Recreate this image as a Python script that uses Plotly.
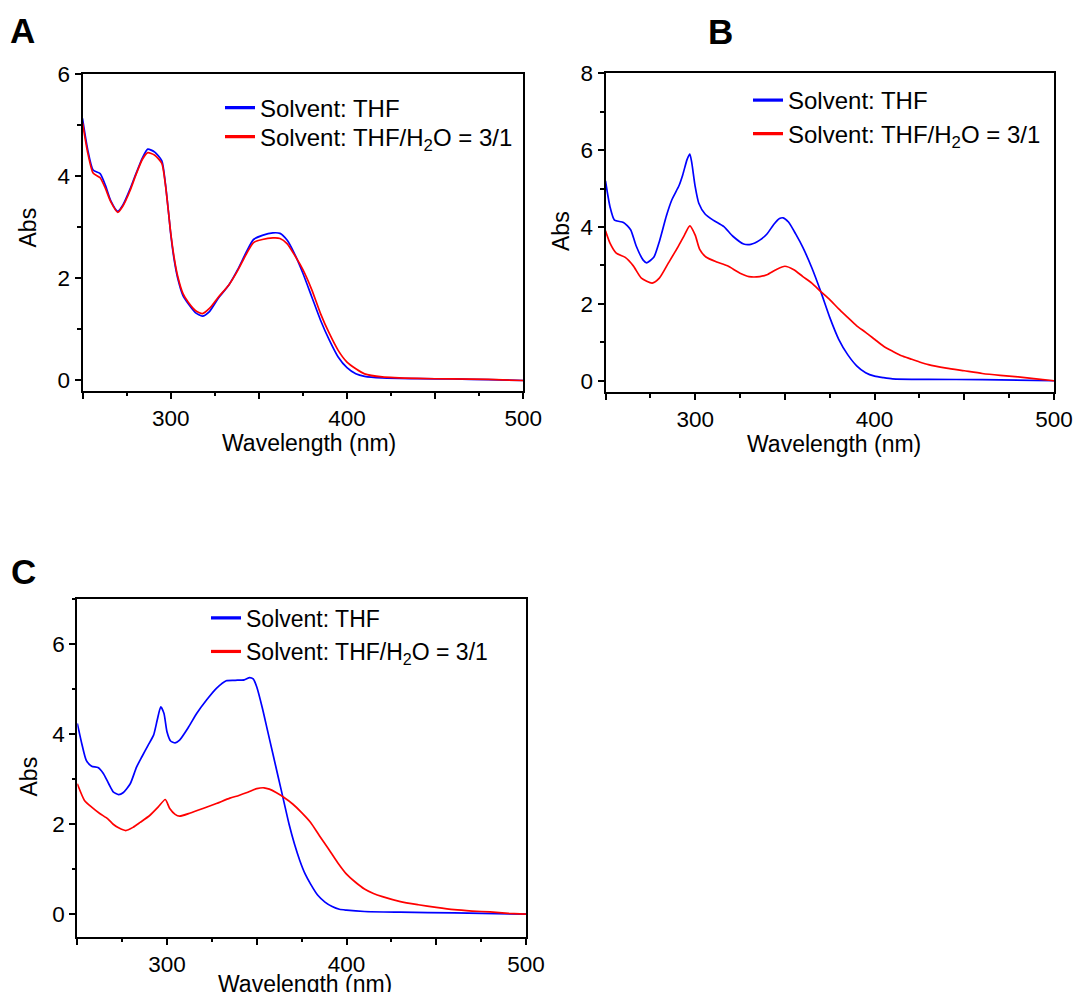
import plotly.graph_objects as go

W, H = 1073, 992

# ---------------- data ----------------
# Panel A
a_wl = [250, 253, 256, 260, 263, 266, 270, 273, 277, 280, 284, 287, 291, 295, 297, 299, 300, 302, 304, 307,
        310, 314, 318, 322, 327, 333, 338, 343, 347, 352, 358, 362, 366, 370, 375, 380, 385, 390, 395, 400,
        405, 410, 420, 440, 460, 480, 500]
a_thf = [5.13, 4.51, 4.12, 4.05, 3.82, 3.52, 3.31, 3.44, 3.75, 4.02, 4.36, 4.53, 4.47, 4.30, 3.86, 3.22, 2.88, 2.36, 2.0, 1.66,
         1.5, 1.33, 1.26, 1.35, 1.61, 1.87, 2.17, 2.52, 2.76, 2.84, 2.89, 2.88, 2.75, 2.50, 2.10, 1.64, 1.18, 0.79, 0.46, 0.25,
         0.13, 0.08, 0.05, 0.035, 0.03, 0.015, 0.0]
a_mix = [5.05, 4.45, 4.06, 3.97, 3.76, 3.50, 3.29, 3.42, 3.72, 4.0, 4.33, 4.46, 4.41, 4.25, 3.84, 3.22, 2.9, 2.4, 2.04, 1.7,
         1.53, 1.37, 1.31, 1.41, 1.63, 1.87, 2.15, 2.48, 2.70, 2.76, 2.79, 2.78, 2.68, 2.47, 2.17, 1.78, 1.31, 0.92, 0.59, 0.36,
         0.23, 0.13, 0.07, 0.04, 0.03, 0.02, 0.0]

# Panel B
b_thf_wl = [250, 252.5, 255, 260, 264, 267, 271, 273, 277, 280, 284, 287, 291, 293, 295.5, 297, 298, 300, 302, 305.5,
            310, 316, 321, 327, 331, 336, 340, 344, 347, 349, 352, 356, 360, 365, 370, 375, 380, 385, 390, 395,
            400, 405, 410, 430, 460, 500]
b_thf = [5.2, 4.53, 4.18, 4.12, 3.93, 3.52, 3.14, 3.07, 3.22, 3.62, 4.3, 4.71, 5.08, 5.35, 5.76, 5.9, 5.7, 5.05, 4.62, 4.34,
         4.18, 4.01, 3.76, 3.56, 3.55, 3.66, 3.82, 4.08, 4.22, 4.24, 4.13, 3.82, 3.47, 2.94, 2.32, 1.65, 1.08, 0.68, 0.39, 0.21,
         0.12, 0.08, 0.05, 0.035, 0.03, 0.0]
b_mix_wl = [250, 252.5, 256, 261, 265.5, 270, 276, 280, 285, 290.5, 294, 297, 300, 302.5, 306, 312, 318, 325, 330, 336,
            340, 345, 350, 355, 360, 365, 370, 375, 380, 385, 390, 395, 400, 405, 410, 415, 420, 425, 430, 440,
            450, 460, 470, 480, 490, 500]
b_mix = [3.9, 3.58, 3.32, 3.21, 2.99, 2.67, 2.54, 2.67, 3.06, 3.49, 3.79, 4.03, 3.79, 3.42, 3.22, 3.09, 2.99, 2.8, 2.71, 2.71,
         2.76, 2.89, 2.98, 2.89, 2.71, 2.54, 2.32, 2.11, 1.87, 1.65, 1.43, 1.26, 1.08, 0.9, 0.77, 0.65, 0.57, 0.49, 0.42, 0.33,
         0.26, 0.19, 0.14, 0.1, 0.05, 0.0]

# Panel C
c_thf_wl = [250, 252.5, 255, 258, 261.5, 264.5, 267.5, 270, 273, 275.5, 279.5, 283, 286, 289.5, 292.5, 294.5, 296.5, 298.3, 300, 302,
            304.5, 307, 312, 316.5, 322, 327.5, 333, 338, 343, 346, 348, 350, 353, 356, 359, 362, 365, 368, 371, 374,
            377, 380, 384, 388, 392, 396, 400, 410, 430, 460, 500]
c_thf = [4.24, 3.79, 3.42, 3.29, 3.26, 3.13, 2.9, 2.72, 2.66, 2.70, 2.9, 3.27, 3.5, 3.76, 3.98, 4.31, 4.61, 4.46, 4.05, 3.85,
         3.81, 3.87, 4.16, 4.46, 4.76, 5.02, 5.19, 5.2, 5.21, 5.26, 5.23, 5.05, 4.6, 4.08, 3.56, 3.04, 2.52, 2.0, 1.56, 1.19,
         0.89, 0.67, 0.42, 0.27, 0.17, 0.11, 0.09, 0.06, 0.045, 0.03, 0.0]
c_mix_wl = [250, 254, 258, 262.5, 267, 270, 273, 277, 281, 285, 290.5, 295, 299, 301.5, 304.5, 307, 313, 320, 327.5, 335,
            340, 345, 350, 354, 357, 361, 365, 370, 375, 380, 385, 390, 395, 400, 405, 410, 415, 420, 430, 440,
            450, 460, 470, 480, 490, 500]
c_mix = [2.9, 2.53, 2.38, 2.24, 2.12, 2.0, 1.92, 1.86, 1.93, 2.04, 2.2, 2.38, 2.55, 2.35, 2.22, 2.18, 2.25, 2.35, 2.46, 2.58,
         2.64, 2.71, 2.79, 2.81, 2.78, 2.7, 2.6, 2.45, 2.26, 2.04, 1.74, 1.45, 1.15, 0.89, 0.71, 0.56, 0.46, 0.39, 0.28, 0.21,
         0.15, 0.1, 0.07, 0.05, 0.02, 0.0]

series_names = ["Solvent: THF", "Solvent: THF/H<sub>2</sub>O = 3/1"]
x_tickvals = [250, 300, 350, 400, 450, 500]
x_ticktext = ["", "300", "", "400", "", "500"]
x_title = "Wavelength (nm)"
y_title = "Abs"
panel_letters = ["A", "B", "C"]

# ---------------- style ----------------
FONT = "Liberation Sans, Arial, Helvetica, sans-serif"
BLUE, RED = "#0000FF", "#FF0000"
TICK_FS, TITLE_FS = 22.5, 23


def px_x(p):
    return p / W


def px_y(p):
    return 1 - p / H


# panel pixel boxes: left, right, top, bottom
boxes = {
    "A": (82.5, 523.3, 74.0, 390.7),
    "B": (605.5, 1054.0, 73.3, 392.3),
    "C": (77.3, 526.0, 599.3, 936.7),
}
yranges = {"A": [-0.2, 6.0], "B": [-0.3, 8.0], "C": [-0.5, 7.0]}
ytickvals = {"A": [0, 2, 4, 6], "B": [0, 2, 4, 6, 8], "C": [0, 2, 4, 6]}
# title centres in pixels
xtitle_pos = {"A": (309, 443), "B": (834, 444), "C": (305, 984)}
ytitle_pos = {"A": (27.5, 228), "B": (561, 231), "C": (28.5, 777)}
# legend entry placement: (x of entry origin, top y of entry row 1, top y of row 2, font size)
legend_place = {"A": (220, 85.5, 114.5, 24), "B": (748, 78, 111.5, 24), "C": (206, 596.5, 630, 23)}

fig = go.Figure()

panels = [
    ("A", "x", "y", ("legend", "legend2"), (a_wl, a_thf), (a_wl, a_mix)),
    ("B", "x2", "y2", ("legend3", "legend4"), (b_thf_wl, b_thf), (b_mix_wl, b_mix)),
    ("C", "x3", "y3", ("legend5", "legend6"), (c_thf_wl, c_thf), (c_mix_wl, c_mix)),
]

for key, xa, ya, legs, s1, s2 in panels:
    for (wl, vals), color in ((s1, BLUE), (s2, RED)):
        fig.add_trace(go.Scatter(x=wl, y=vals, mode="lines", xaxis=xa, yaxis=ya,
                                 line=dict(color=color, width=1.7, shape="spline", smoothing=0.6),
                                 showlegend=False, hoverinfo="skip"))
    # legend entries (thicker sample lines, as in the original)
    for name, color, leg in zip(series_names, (BLUE, RED), legs):
        fig.add_trace(go.Scatter(x=[None], y=[None], mode="lines", xaxis=xa, yaxis=ya,
                                 line=dict(color=color, width=3.2), name=name, legend=leg))

axis_common = dict(showline=True, linecolor="black", linewidth=2, mirror=True,
                   ticks="outside", ticklen=6, tickwidth=2, tickcolor="black",
                   showgrid=False, zeroline=False, automargin=False,
                   tickfont=dict(family=FONT, size=TICK_FS, color="black"))

layout = dict(width=W, height=H, margin=dict(l=0, r=0, t=0, b=0, autoexpand=False),
              paper_bgcolor="white", plot_bgcolor="white",
              font=dict(family=FONT, color="black"))

for i, (key, xa, ya, legs, s1, s2) in enumerate(panels):
    l, r, t, b = boxes[key]
    sfx = "" if i == 0 else str(i + 1)
    layout["xaxis" + sfx] = dict(axis_common, domain=[px_x(l), px_x(r)], range=[250, 500],
                                 anchor="y" + sfx, tickmode="array", tickvals=x_tickvals, ticktext=x_ticktext,
                                 minor=dict(ticks="outside", ticklen=3.5, tickwidth=2, tickcolor="black",
                                            tickmode="linear", tick0=250, dtick=25))
    layout["yaxis" + sfx] = dict(axis_common, domain=[px_y(b), px_y(t)], range=yranges[key],
                                 anchor="x" + sfx, tickmode="array", tickvals=ytickvals[key],
                                 minor=dict(ticks="outside", ticklen=3.5, tickwidth=2, tickcolor="black",
                                            tickmode="linear", tick0=0, dtick=1))
    lx, ly1, ly2, lfs = legend_place[key]
    for leg, ly in zip(legs, (ly1, ly2)):
        layout[leg] = dict(x=px_x(lx), y=px_y(ly), xanchor="left", yanchor="top",
                           bgcolor="rgba(0,0,0,0)", borderwidth=0,
                           font=dict(family=FONT, size=lfs, color="black"))

fig.update_layout(**layout)

title_font = dict(family=FONT, size=TITLE_FS, color="black")
for key in panel_letters:
    tx, ty = xtitle_pos[key]
    fig.add_annotation(text=x_title, xref="paper", yref="paper", x=px_x(tx), y=px_y(ty),
                       xanchor="center", yanchor="middle", showarrow=False, font=title_font)
    tx, ty = ytitle_pos[key]
    fig.add_annotation(text=y_title, xref="paper", yref="paper", x=px_x(tx), y=px_y(ty),
                       xanchor="center", yanchor="middle", textangle=-90, showarrow=False, font=title_font)

letter_pos = {"A": (8, 30), "B": (706, 31), "C": (9, 571)}
for key in panel_letters:
    lx, ly = letter_pos[key]
    fig.add_annotation(text="<b>%s</b>" % key, xref="paper", yref="paper",
                       x=px_x(lx), y=px_y(ly), xanchor="left", yanchor="middle",
                       showarrow=False, font=dict(family=FONT, size=35, color="black"))

fig.write_html("out.html")
